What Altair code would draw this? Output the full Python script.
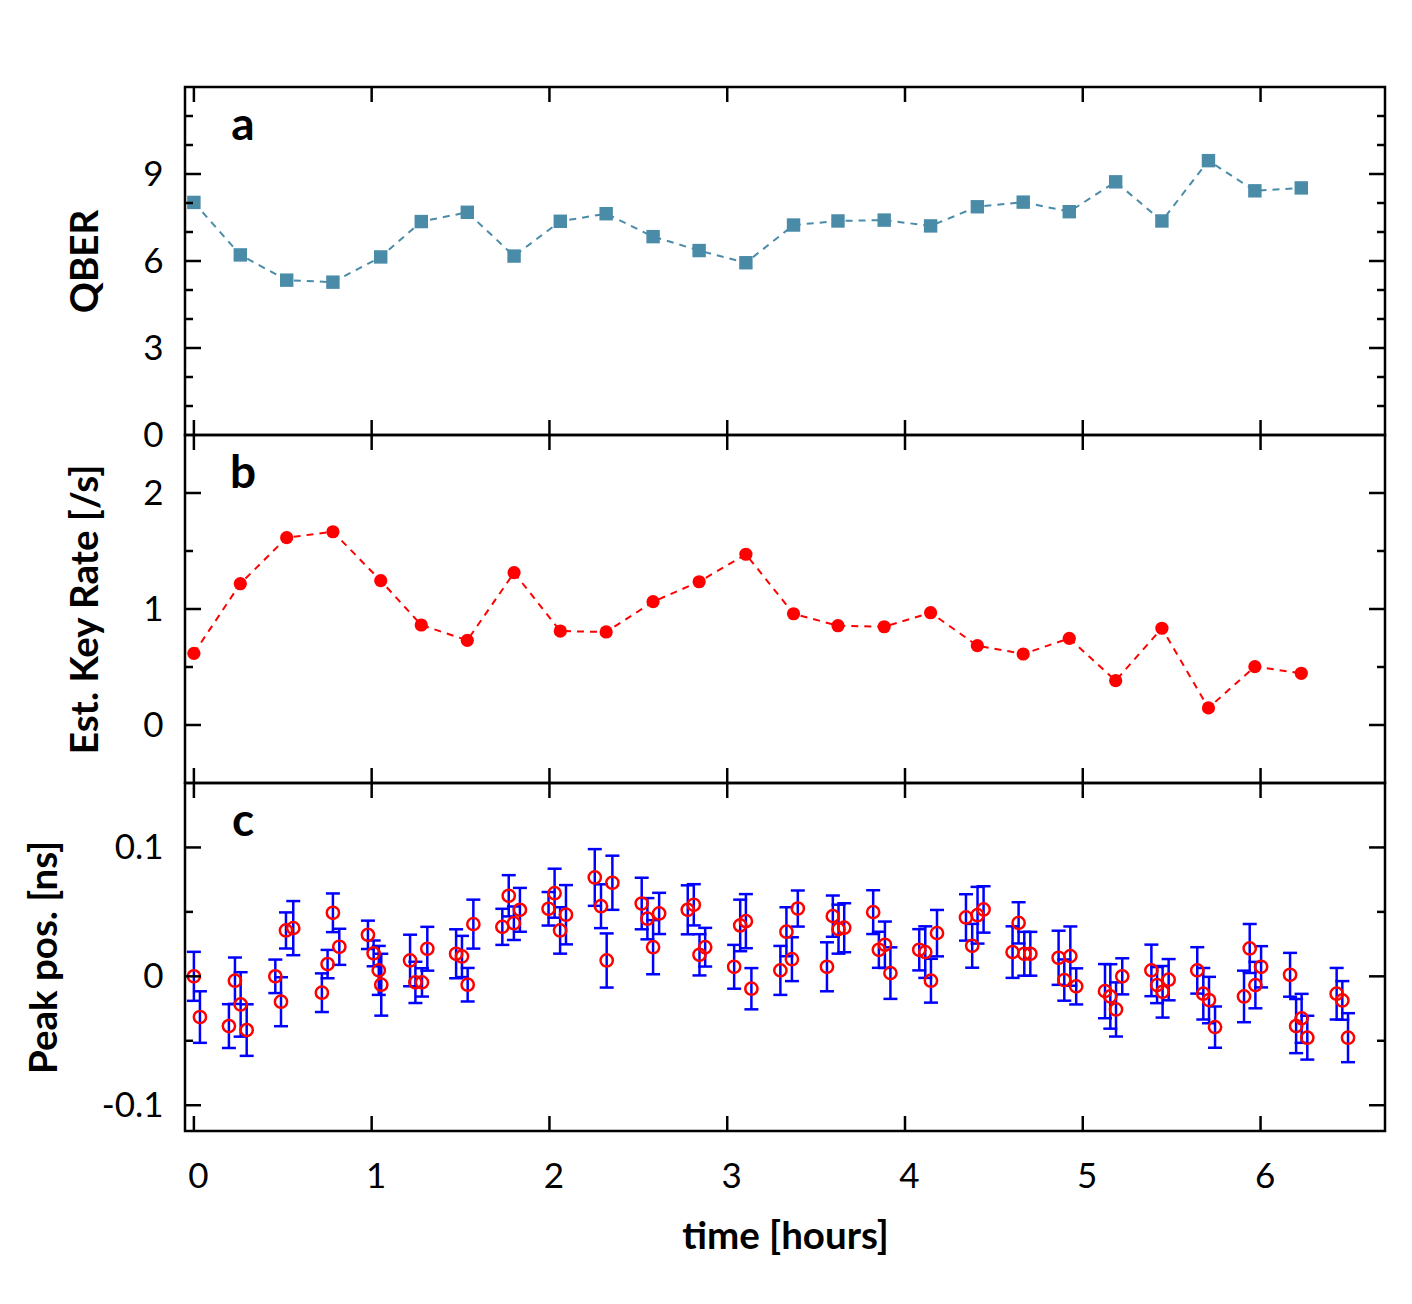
import altair as alt
import pandas as pd

# ---------------- data ----------------
HOURS = [0, 1, 2, 3, 4, 5, 6]

QBER_T = [0.000, 0.261, 0.522, 0.782, 1.051, 1.279, 1.538, 1.801, 2.061, 2.319,
          2.583, 2.842, 3.105, 3.373, 3.623, 3.883, 4.144, 4.407, 4.665, 4.924,
          5.185, 5.445, 5.707, 5.968, 6.229]
QBER = [8.02, 6.21, 5.34, 5.27, 6.14, 7.36, 7.68, 6.17, 7.37, 7.63,
        6.84, 6.36, 5.94, 7.24, 7.38, 7.41, 7.21, 7.87, 8.03, 7.70,
        8.73, 7.38, 9.46, 8.42, 8.52]
RATE = [0.618, 1.218, 1.615, 1.666, 1.244, 0.862, 0.730, 1.313, 0.810, 0.802,
        1.063, 1.235, 1.472, 0.959, 0.856, 0.847, 0.968, 0.684, 0.612, 0.747,
        0.382, 0.834, 0.147, 0.503, 0.446]

PEAK_T = [0.000, 0.034, 0.197, 0.231, 0.263, 0.297, 0.458, 0.490, 0.518, 0.559,
          0.720, 0.752, 0.782, 0.818, 0.979, 1.011, 1.040, 1.054, 1.216, 1.246,
          1.283, 1.313, 1.475, 1.508, 1.540, 1.572, 1.735, 1.771, 1.800, 1.834,
          1.995, 2.029, 2.060, 2.093, 2.255, 2.290, 2.322, 2.354, 2.519, 2.551,
          2.583, 2.617, 2.778, 2.812, 2.844, 2.876, 3.039, 3.073, 3.105, 3.136,
          3.299, 3.333, 3.364, 3.397, 3.561, 3.594, 3.626, 3.658, 3.821, 3.853,
          3.887, 3.918, 4.080, 4.114, 4.146, 4.180, 4.343, 4.378, 4.408, 4.442,
          4.605, 4.639, 4.671, 4.705, 4.864, 4.896, 4.930, 4.963, 5.125, 5.155,
          5.187, 5.222, 5.386, 5.418, 5.449, 5.483, 5.644, 5.678, 5.710, 5.744,
          5.907, 5.939, 5.971, 6.003, 6.166, 6.200, 6.231, 6.263, 6.428, 6.460,
          6.492]
PEAK_V = [0.000, -0.0316, -0.0386, -0.0034, -0.0218, -0.0417, 0.000, -0.0197, 0.0356, 0.0374,
          -0.0127, 0.0095, 0.0493, 0.0229, 0.0322, 0.0178, 0.0046, -0.0065, 0.0123, -0.0047,
          -0.0047, 0.0214, 0.0175, 0.0154, -0.0065, 0.0405, 0.0384, 0.0625, 0.0412, 0.0516,
          0.0524, 0.0645, 0.0356, 0.0478, 0.0767, 0.0544, 0.0123, 0.0726, 0.0565, 0.0447,
          0.0226, 0.0488, 0.0516, 0.0555, 0.0167, 0.0226, 0.0074, 0.0395, 0.0428, -0.0096,
          0.0046, 0.0346, 0.0133, 0.0526, 0.0074, 0.0467, 0.0366, 0.0377, 0.0498, 0.0206,
          0.0245, 0.0025, 0.0206, 0.0188, -0.0034, 0.0335, 0.0457, 0.0237, 0.0474, 0.0519,
          0.0188, 0.0415, 0.0175, 0.0175, 0.0144, -0.0029, 0.0157, -0.0078, -0.0115, -0.0156,
          -0.0257, 0.000, 0.0046, -0.0068, -0.012, -0.0026, 0.0046, -0.0135, -0.0184, -0.0394,
          -0.0156, 0.0216, -0.0068, 0.0074, 0.0012, -0.0386, -0.0326, -0.0476, -0.0135, -0.0187,
          -0.0476]
PEAK_E = [0.019, 0.020, 0.017, 0.018, 0.025, 0.020, 0.013, 0.019, 0.014, 0.021,
          0.015, 0.011, 0.015, 0.014, 0.011, 0.010, 0.019, 0.024, 0.020, 0.016,
          0.011, 0.017, 0.019, 0.016, 0.013, 0.019, 0.014, 0.016, 0.013, 0.017,
          0.013, 0.019, 0.018, 0.023, 0.022, 0.017, 0.021, 0.021, 0.020, 0.016,
          0.021, 0.016, 0.019, 0.016, 0.016, 0.015, 0.017, 0.020, 0.021, 0.016,
          0.019, 0.019, 0.017, 0.014, 0.019, 0.016, 0.019, 0.019, 0.017, 0.014,
          0.018, 0.020, 0.016, 0.020, 0.017, 0.018, 0.018, 0.017, 0.022, 0.018,
          0.020, 0.016, 0.017, 0.017, 0.021, 0.016, 0.023, 0.014, 0.021, 0.025,
          0.021, 0.014, 0.020, 0.014, 0.020, 0.016, 0.018, 0.020, 0.018, 0.016,
          0.020, 0.019, 0.018, 0.016, 0.017, 0.021, 0.019, 0.017, 0.020, 0.015,
          0.019]

QBER_MAJOR = [3, 6, 9]
QBER_MINOR = [1, 2, 4, 5, 7, 8, 10, 11]
RATE_MAJOR = [0, 1, 2]
RATE_MINOR = [0.5, 1.5]
PEAK_MAJOR = [-0.1, 0, 0.1]
PEAK_MINOR = [-0.05, 0.05]
PANEL_LABELS = ["a", "b", "c"]

TITLES = {"qber": "QBER", "rate": "Est. Key Rate [/s]", "peak": "Peak pos. [ns]",
          "time": "time [hours]"}

# ---------------- style ----------------
W, H = 1200, 348
TEAL = "#4a8ba8"
RED = "#ff0000"
BLUE = "#0000ff"
FONT = "Lato"
XDOM = [-0.05, 6.70]

xs = alt.Scale(domain=XDOM, nice=False, zero=False)


def yaxis(values, title, tx, expr=None):
    kw = dict(values=values, title=title, titleX=tx, titleBaseline="middle",
              labelPadding=22, ticks=False, domain=False, grid=False)
    if expr:
        kw["labelExpr"] = expr
    return alt.Axis(**kw)


def tick_layers(ys, yax, xax, majors, minors):
    xt = pd.DataFrame({"h": HOURS})
    rule = dict(color="black", strokeWidth=2.5)
    layers = [
        alt.Chart(xt).mark_rule(**rule).encode(
            x=alt.X("h:Q", scale=xs, axis=xax), y=alt.value(0), y2=alt.value(15)),
        alt.Chart(xt).mark_rule(**rule).encode(
            x=alt.X("h:Q", scale=xs, axis=xax), y=alt.value(H - 15), y2=alt.value(H)),
    ]
    for vals, ln in ((majors, 16), (minors, 8)):
        d = pd.DataFrame({"v": vals})
        layers.append(alt.Chart(d).mark_rule(**rule).encode(
            y=alt.Y("v:Q", scale=ys, axis=yax), x=alt.value(0), x2=alt.value(ln)))
        layers.append(alt.Chart(d).mark_rule(**rule).encode(
            y=alt.Y("v:Q", scale=ys, axis=yax), x=alt.value(W - ln), x2=alt.value(W)))
    return layers


def label_layer(i):
    d = pd.DataFrame({"t": [PANEL_LABELS[i]]})
    return alt.Chart(d).mark_text(font=FONT, fontWeight="bold", fontSize=46,
                                  align="center", baseline="alphabetic",
                                  color="black").encode(
        text="t:N", x=alt.value(58), y=alt.value(53))


# panel a
ysa = alt.Scale(domain=[0, 12], nice=False, zero=False)
yax_a = yaxis([0, 3, 6, 9], TITLES["qber"], -100)
dfa = pd.DataFrame({"t": QBER_T, "q": QBER})
ba = alt.Chart(dfa)
enc_a = dict(x=alt.X("t:Q", scale=xs, axis=None),
             y=alt.Y("q:Q", scale=ysa, axis=yax_a))
line_a = ba.mark_line(color=TEAL, strokeDash=[7, 6], strokeWidth=2).encode(**enc_a)
pts_a = ba.mark_point(shape="square", filled=True, size=180, color=TEAL,
                      opacity=1, strokeWidth=0).encode(**enc_a)
panel_a = alt.layer(line_a, pts_a, *tick_layers(ysa, yax_a, None, QBER_MAJOR, QBER_MINOR),
                    label_layer(0)).properties(width=W, height=H)

# panel b
ysb = alt.Scale(domain=[-0.5, 2.5], nice=False, zero=False)
yax_b = yaxis([0, 1, 2], TITLES["rate"], -100)
dfb = pd.DataFrame({"t": QBER_T, "r": RATE})
bb = alt.Chart(dfb)
enc_b = dict(x=alt.X("t:Q", scale=xs, axis=None),
             y=alt.Y("r:Q", scale=ysb, axis=yax_b))
line_b = bb.mark_line(color=RED, strokeDash=[7, 6], strokeWidth=2).encode(**enc_b)
pts_b = bb.mark_point(shape="circle", filled=True, size=175, color=RED,
                      opacity=1, strokeWidth=0).encode(**enc_b)
panel_b = alt.layer(line_b, pts_b, *tick_layers(ysb, yax_b, None, RATE_MAJOR, RATE_MINOR),
                    label_layer(1)).properties(width=W, height=H)

# panel c
ysc = alt.Scale(domain=[-0.12, 0.15], nice=False, zero=False)
peak_expr = ("datum.value == 0 ? '0' : (datum.value < 0 ? '-' + format(-datum.value, '.1f')"
             " : format(datum.value, '.1f'))")
yax_c = yaxis([-0.1, 0, 0.1], TITLES["peak"], -141, peak_expr)
xax_c = alt.Axis(values=HOURS, title=TITLES["time"], format="d", labelPadding=28,
                 labelOffset=4, titleY=105, titleBaseline="middle",
                 ticks=False, domain=False, grid=False)
dfc = pd.DataFrame({"t": PEAK_T, "v": PEAK_V, "e": PEAK_E})
dfc["lo"] = dfc["v"] - dfc["e"]
dfc["hi"] = dfc["v"] + dfc["e"]
bc = alt.Chart(dfc)
xc = alt.X("t:Q", scale=xs, axis=xax_c)
bars = bc.mark_rule(color=BLUE, strokeWidth=2.5).encode(
    x=xc, y=alt.Y("lo:Q", scale=ysc, axis=yax_c), y2="hi:Q")
cap_lo = bc.mark_tick(color=BLUE, orient="horizontal", size=14, thickness=2.5,
                      opacity=1).encode(x=xc, y=alt.Y("lo:Q", scale=ysc, axis=yax_c))
cap_hi = bc.mark_tick(color=BLUE, orient="horizontal", size=14, thickness=2.5,
                      opacity=1).encode(x=xc, y=alt.Y("hi:Q", scale=ysc, axis=yax_c))
circ = bc.mark_point(shape="circle", filled=False, size=150, color=RED,
                     strokeWidth=2.5, opacity=1).encode(
    x=xc, y=alt.Y("v:Q", scale=ysc, axis=yax_c))
panel_c = alt.layer(bars, cap_lo, cap_hi, circ,
                    *tick_layers(ysc, yax_c, xax_c, PEAK_MAJOR, PEAK_MINOR),
                    label_layer(2)).properties(width=W, height=H)

chart = alt.vconcat(panel_a, panel_b, panel_c, spacing=0, bounds="flush").properties(
    padding={"left": 15, "top": 76, "right": 10, "bottom": 20}
).configure(font=FONT, background="white").configure_view(
    stroke="black", strokeWidth=2.5
).configure_axis(
    labelFont=FONT, labelFontSize=35, labelColor="black",
    titleFont=FONT, titleFontSize=38.5, titleFontWeight="bold", titleColor="black"
)

chart.save("out.html", embed_options={"renderer": "svg", "actions": False})
